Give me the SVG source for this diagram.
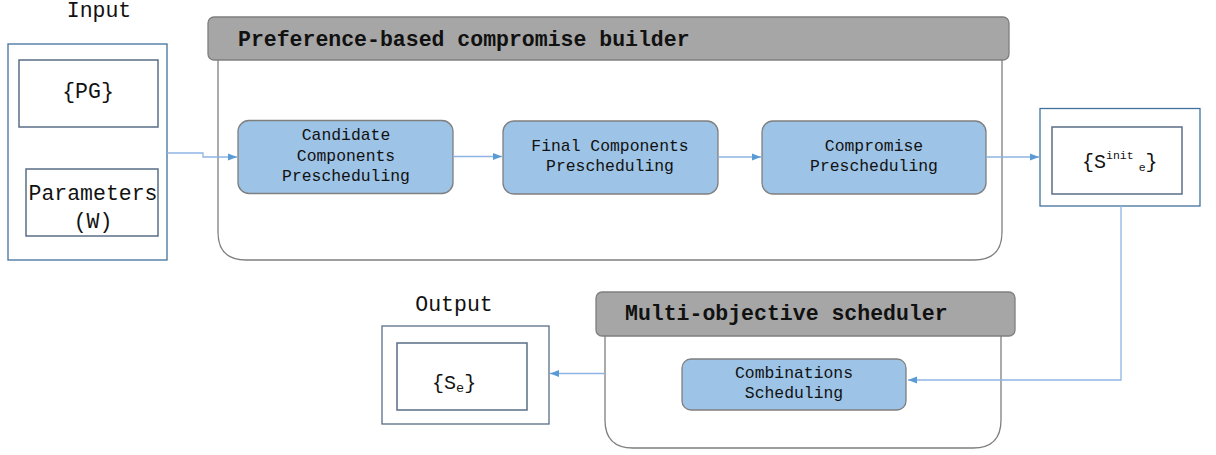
<svg xmlns="http://www.w3.org/2000/svg" width="1216" height="455" viewBox="0 0 1216 455">
<defs>
<marker id="arr" markerWidth="10" markerHeight="8" refX="9" refY="4" orient="auto" markerUnits="userSpaceOnUse">
<path d="M0,0.5 L9,4 L0,7.5 Z" fill="#5b9bd5"/>
</marker>
<style>
.t{font-family:"Liberation Mono","DejaVu Sans Mono",monospace;fill:#111;}
.lbl{font-size:21.5px;}
.hd{font-size:21.5px;font-weight:bold;}
.bx{font-size:16.4px;text-anchor:middle;}
.outer{fill:#fff;stroke:#41719c;stroke-width:1.3;}
.inner{fill:#fff;stroke:#5a6e87;stroke-width:1.5;}
.proc{fill:#9dc3e6;stroke:#7f7f7f;stroke-width:1.3;}
.head{fill:#a6a6a6;stroke:#7f7f7f;stroke-width:1.3;}
.body{fill:#fff;stroke:#7f7f7f;stroke-width:1.3;}
.con{fill:none;stroke:#8eb4e3;stroke-width:1.3;marker-end:url(#arr);}
</style>
</defs>
<rect width="1216" height="455" fill="#fff"/>

<g id="pref-container">
<path class="body" d="M218,60 V232 Q218,260 246,260 H974 Q1002,260 1002,232 V60"/>
<rect class="head" x="208" y="17" width="801" height="43" rx="6"/>
<text class="t hd" x="238" y="46">Preference-based compromise builder</text>
</g>

<g id="multi-container">
<path class="body" d="M605,336 V420 Q605,448 633,448 H973 Q1001,448 1001,420 V336"/>
<rect class="head" x="596" y="292" width="419" height="44" rx="6"/>
<text class="t hd" x="625" y="320">Multi-objective scheduler</text>
</g>

<g id="input">
<text class="t lbl" x="99" y="17" text-anchor="middle">Input</text>
<rect class="outer" x="8" y="44" width="159" height="216"/>
<rect class="inner" x="19" y="60" width="139" height="67"/>
<text class="t lbl" x="88" y="98" text-anchor="middle">{PG}</text>
<rect class="inner" x="26" y="169" width="132" height="67"/>
<text class="t lbl" x="93" y="200" text-anchor="middle">Parameters</text>
<text class="t lbl" x="93" y="228" text-anchor="middle">(W)</text>
</g>

<g id="candidate">
<rect class="proc" x="238" y="120.5" width="215" height="73" rx="11"/>
<text class="t bx" x="346" y="140">Candidate</text>
<text class="t bx" x="346" y="160.5">Components</text>
<text class="t bx" x="346" y="180.5">Prescheduling</text>
</g>

<g id="final">
<rect class="proc" x="503" y="121" width="215" height="73" rx="11"/>
<text class="t bx" x="610" y="151">Final Components</text>
<text class="t bx" x="610" y="171">Prescheduling</text>
</g>

<g id="compromise">
<rect class="proc" x="762" y="121" width="224" height="73" rx="11"/>
<text class="t bx" x="874" y="151">Compromise</text>
<text class="t bx" x="874" y="171">Prescheduling</text>
</g>

<g id="sinit">
<rect class="outer" x="1040" y="108.5" width="160" height="97.5"/>
<rect class="inner" x="1052" y="127" width="130" height="67"/>
<text class="t" x="1082" y="168" font-size="20"><tspan>{S</tspan><tspan font-size="11.5" dy="-9">init</tspan><tspan font-size="11.5" dx="5" dy="12">e</tspan><tspan dy="-3">}</tspan></text>
</g>

<g id="combinations">
<rect class="proc" x="682" y="359" width="224" height="51" rx="9"/>
<text class="t bx" x="794" y="378">Combinations</text>
<text class="t bx" x="794" y="398">Scheduling</text>
</g>

<g id="output">
<text class="t lbl" x="454" y="311" text-anchor="middle">Output</text>
<rect class="outer" x="382" y="326" width="167" height="98" style="stroke:#5a6e87"/>
<rect class="inner" x="397" y="343" width="130" height="67"/>
<text class="t" x="432" y="389" font-size="20"><tspan>{S</tspan><tspan font-size="13.5" dy="3">e</tspan><tspan dy="-3">}</tspan></text>
</g>

<g id="connectors">
<path class="con" d="M167,153 H203 V157 H237"/>
<path class="con" d="M453,156.5 H502"/>
<path class="con" d="M718,157 H761"/>
<path class="con" d="M986,157 H1039"/>
<path class="con" d="M1121,206 V380 H908"/>
<path class="con" d="M605,373.5 H550"/>
</g>
</svg>
